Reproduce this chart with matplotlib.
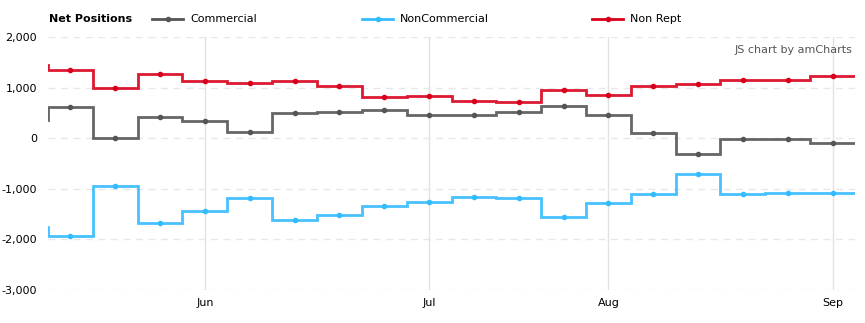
import matplotlib
matplotlib.use("Agg")
import matplotlib.pyplot as plt
from matplotlib.lines import Line2D
import numpy as np

# weekly net positions; first value is the week before the visible range
commercial = [350, 614, 0, 416, 337, 119, 495, 515, 562, 455, 455, 515, 634, 455, 99, -317, -12, -12, -99]
noncommercial = [-1762, -1941, -950, -1683, -1446, -1188, -1610, -1525, -1347, -1267, -1168, -1188, -1564, -1287, -1109, -713, -1109, -1089, -1089]
nonrept = [1440, 1347, 990, 1267, 1129, 1089, 1129, 1030, 812, 832, 733, 713, 958, 851, 1030, 1069, 1149, 1149, 1228]
month_pos = [3, 8, 12, 17]
month_labels = ["Jun", "Jul", "Aug", "Sep"]
series = [("Commercial", commercial, "#555555"),
          ("NonCommercial", noncommercial, "#33bbff"),
          ("Non Rept", nonrept, "#d9001b")]

W, H = 865, 323
fig = plt.figure(figsize=(W / 100, H / 100), dpi=100)
ax = fig.add_axes([48 / W, 1 - 290 / H, (855 - 48) / W, (290 - 37) / H])

idx = np.arange(-1, len(commercial) - 1)
edges = np.arange(-1.5, len(commercial) - 0.5)
for name, vals, col in series:
    ax.stairs(vals, edges, baseline=None, color=col, lw=2, alpha=0.9, zorder=3)
    ax.plot(idx, vals, "o", color=col, ms=3, zorder=4)

ax.set_xlim(-0.5, len(commercial) - 1.5)
ax.set_ylim(-3000, 2000)
ax.set_yticks(range(-3000, 2001, 1000))
ax.set_yticklabels([f"{v:,}" for v in range(-3000, 2001, 1000)])
ax.set_xticks(month_pos)
ax.set_xticklabels(month_labels)
ax.tick_params(length=0, labelsize=8, colors="#000000", pad=6)
ax.tick_params(axis="y", pad=8)
for s in ax.spines.values():
    s.set_visible(False)
for v in range(-3000, 2001, 1000):
    ax.axhline(v, color="#e8e8e8", lw=1, ls=(0, (5, 4)), zorder=1)
for p in month_pos:
    ax.axvline(p, color="#e2e2e2", lw=1, zorder=1)

# legend row across the top
fig.text(49 / W, 1 - 19 / H, "Net Positions", fontsize=8, fontweight="bold", va="center")
for (name, vals, col), x0 in zip(series, [152, 362, 592]):
    fig.add_artist(Line2D([x0 / W, (x0 + 31) / W], [1 - 19 / H] * 2, color=col, lw=2,
                          transform=fig.transFigure))
    fig.add_artist(Line2D([(x0 + 15.5) / W], [1 - 19 / H], color=col, marker="o", ms=3,
                          transform=fig.transFigure))
    fig.text((x0 + 38) / W, 1 - 19 / H, name, fontsize=8, va="center")

fig.text(852 / W, 1 - 50 / H, "JS chart by amCharts", fontsize=8, color="#555555",
         ha="right", va="center")

fig.savefig("out.png", dpi=100)
